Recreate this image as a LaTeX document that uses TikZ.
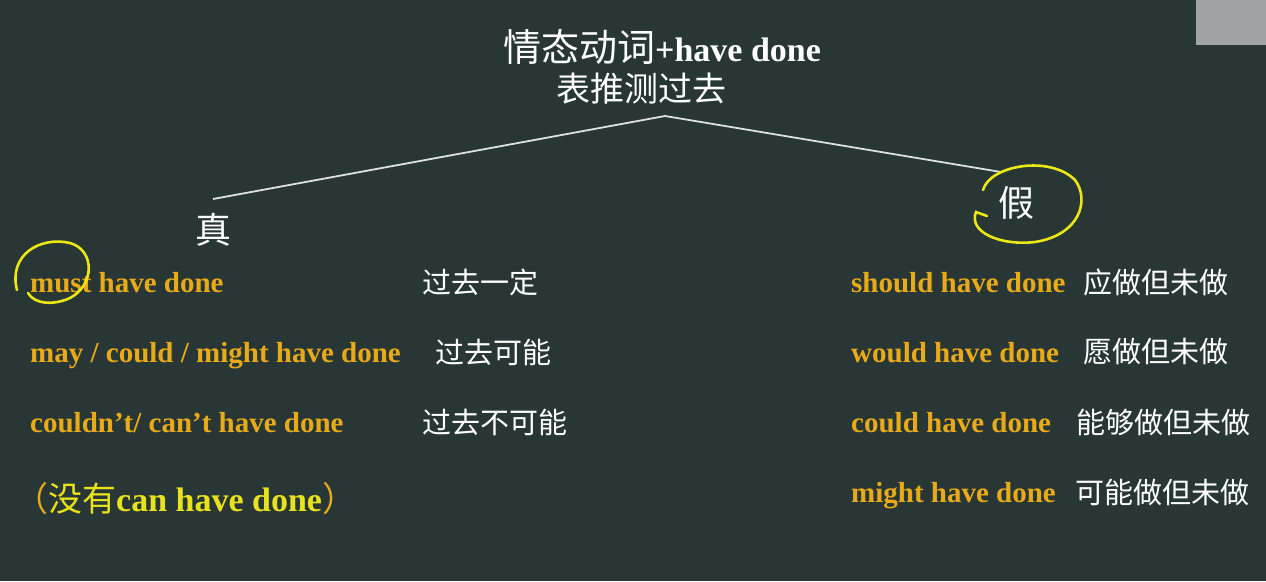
\documentclass[tikz,border=0pt]{standalone}
\usepackage{fontspec}
\setmainfont{Liberation Serif}
\newfontfamily\cjk{Noto Sans CJK SC}
\usetikzlibrary{positioning}
\definecolor{board}{RGB}{40,54,54}
\definecolor{chalkor}{RGB}{232,170,24}
\definecolor{chalkye}{RGB}{232,226,28}
\definecolor{penye}{RGB}{236,230,20}
\definecolor{tabgray}{RGB}{160,164,166}

\begin{document}
\begin{tikzpicture}[x=1pt,y=-1pt,
eng/.style={
	text=chalkor, inner sep=0pt, anchor=base west,
	font=\fontsize{29}{29}\selectfont\bfseries
},
zh/.style={
	text=white, inner sep=0pt, anchor=west,
	font=\fontsize{29}{29}\selectfont\cjk
},
title/.style={text=white, inner sep=0pt, anchor=west, font=\fontsize{34}{34}\selectfont\bfseries},
big/.style={text=white, inner sep=0pt, font=\fontsize{36}{36}\selectfont\cjk},
branch/.style={draw=white!85!board, line width=1.8pt},
ring/.style={draw=penye, line width=2.6pt, line cap=round}
]
\fill[board] (0,0) rectangle (1266,581);
\useasboundingbox (0,0) rectangle (1266,581);
\fill[tabgray] (1196,0) rectangle (1266,45);

\node[title] (t1) at (503,47) {{\cjk\mdseries\fontsize{38}{38}\selectfont 情态动词}+have done};
\node[title] (t2) at (556,89) {\cjk\mdseries 表推测过去};

\coordinate (top) at (665,116);
\coordinate (lt) at (213,199);
\coordinate (rt) at (1001,172);
\draw[branch] (lt) -- (top) -- (rt);

\node[big] (zhen) at (213,230) {真};
\node[big] (jia) at (1016,203) {假};

% left column
\foreach \y/\e/\c/\cx [count=\i] in {292/{must have done}/过去一定/422,
	362/{may / could / might have done}/过去可能/435,
	432/{couldn’t/ can’t have done}/过去不可能/422}
{
	\node[eng] (l\i) at (30,\y) {\e};
	\node[zh] (lz\i) at (\cx,\y-10) {\c};
}
\node[eng, text=chalkye, font=\fontsize{34}{34}\selectfont\bfseries] (none) at (14,511)
	{{\cjk\mdseries\textcolor{chalkor}{（}没有}can have done{\cjk\mdseries\textcolor{chalkor}{）}}};

% right column
\foreach \y/\e/\c/\cx [count=\i] in {292/should have done/应做但未做/1083,
	362/would have done/愿做但未做/1083,
	432/could have done/能够做但未做/1076,
	502/might have done/可能做但未做/1075}
{
	\node[eng] (r\i) at (851,\y) {\e};
	\node[zh] (rz\i) at (\cx,\y-10) {\c};
}

% pen marks
\draw[ring] (17,290) .. controls (8,255) and (40,236) .. (70,243)
	.. controls (95,250) and (95,285) .. (70,298)
	.. controls (55,305) and (35,305) .. (28,293);
\draw[ring] (983,190) .. controls (990,165) and (1050,155) .. (1075,180)
	.. controls (1090,200) and (1080,235) .. (1035,242)
	.. controls (1000,246) and (968,232) .. (976,212) -- (987,216);
\end{tikzpicture}
\end{document}
